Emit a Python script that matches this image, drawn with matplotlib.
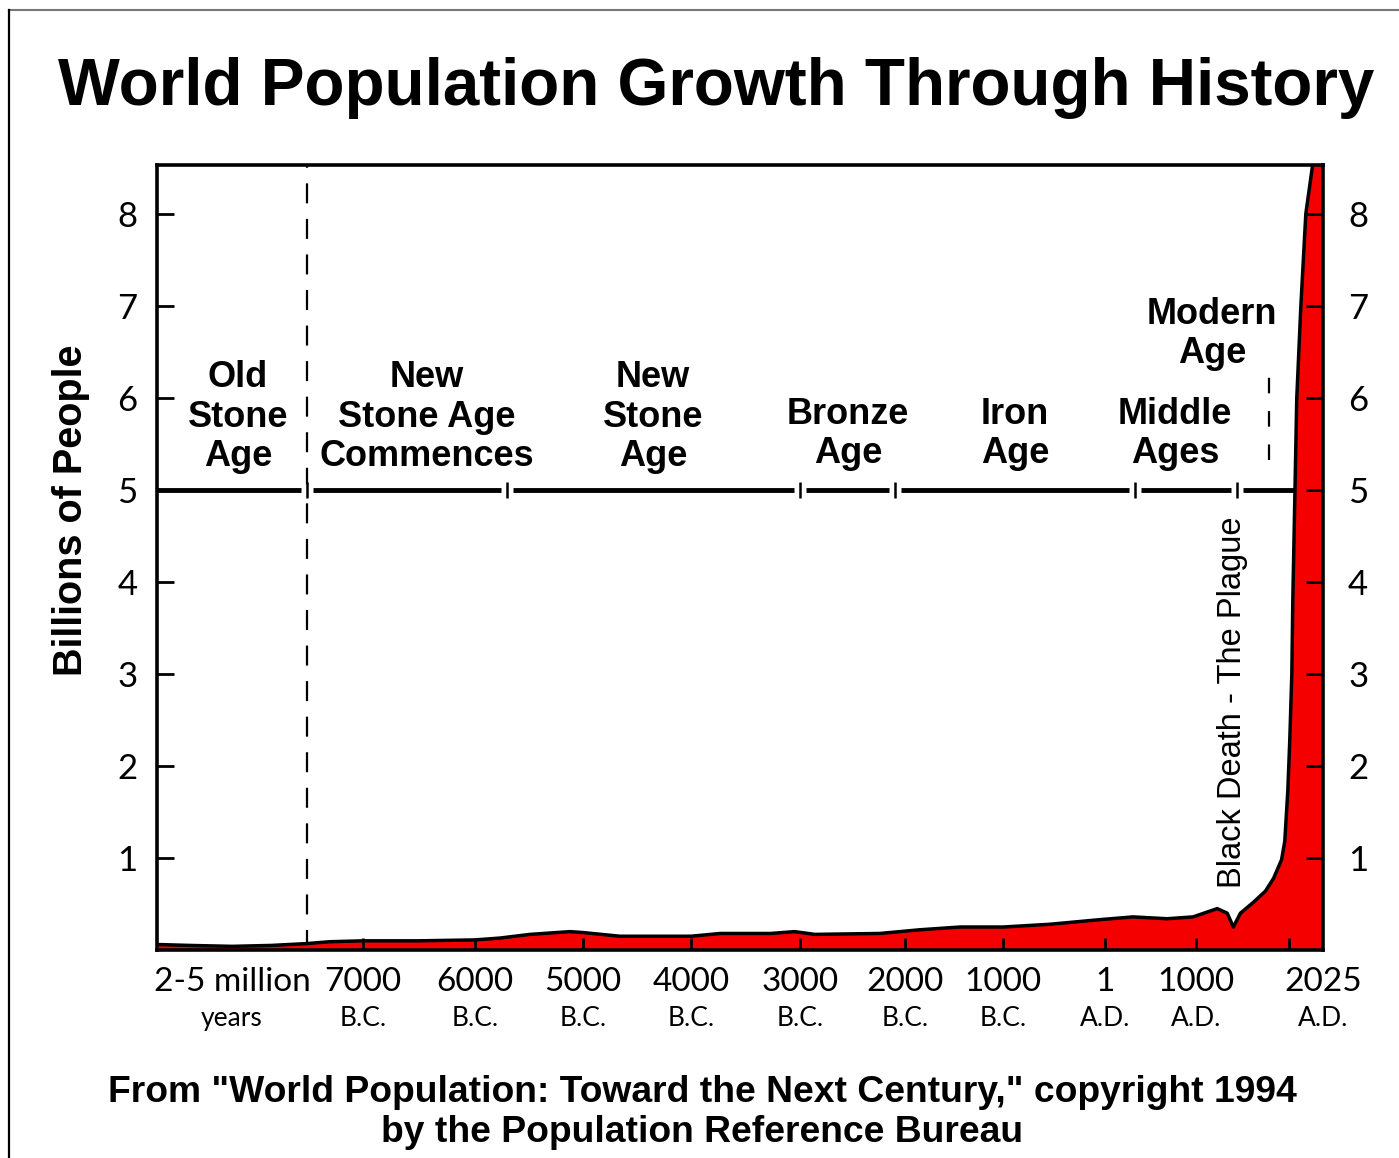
import numpy as np
import matplotlib
matplotlib.use("Agg")
import matplotlib.pyplot as plt
from matplotlib.lines import Line2D
from matplotlib.transforms import blended_transform_factory

plt.rcParams["font.family"] = ["Liberation Sans", "DejaVu Sans"]

# ── Data (years; negative = B.C.) ─────────────────────────────────────────────
years = [-5000000, -3900000, -2500000, -1200000, -8000, -7600, -7000, -6500,
         -6000, -5770, -5490, -5120, -5000, -4660, -4000, -3730, -3270, -3050,
         -2860, -2240, -1850, -1440, -1000, -540, -50, 309, 683, 967, 1171,
         1252, 1301, 1358, 1464, 1560, 1626, 1690, 1716, 1741, 1757, 1773, 1781,
         1797, 1813, 1846, 1886, 1943, 2025]
population = [0.06, 0.05, 0.04, 0.05, 0.07, 0.09, 0.10, 0.10,
              0.11, 0.13, 0.17, 0.20, 0.19, 0.15, 0.15, 0.18, 0.18, 0.20,
              0.17, 0.18, 0.22, 0.25, 0.25, 0.28, 0.33, 0.36, 0.34, 0.36, 0.45,
              0.40, 0.25, 0.40, 0.52, 0.64, 0.78, 0.98, 1.18, 1.74, 2.30, 3.00, 3.80,
              4.90, 6.00, 7.00, 8.00, 8.55, 9.30]

era_names = ["Old\nStone\nAge", "New\nStone Age\nCommences", "New\nStone\nAge",
             "Bronze\nAge", "Iron\nAge", "Middle\nAges", "Modern\nAge"]
era_boundaries = [-8000, -5700, -3000, -2100, 330, 1330]
stone_age_start = -8000
modern_divider = 1590

tick_years = [-7000, -6000, -5000, -4000, -3000, -2000, -1000, 1, 1000, 1750]
label_years = [-2500000, -7000, -6000, -5000, -4000, -3000, -2000, -1000, 1, 1000, 2025]
label_top = ["2-5 million", "7000", "6000", "5000", "4000", "3000", "2000",
             "1000", "1", "1000", "2025"]
label_bottom = ["years", "B.C.", "B.C.", "B.C.", "B.C.", "B.C.", "B.C.",
                "B.C.", "A.D.", "A.D.", "A.D."]
y_ticks = [1, 2, 3, 4, 5, 6, 7, 8]

# time axis is piecewise linear between these anchors (fraction of axis width)
scale_years = [-5000000, -8000, -7000, -6000, -5000, -4000, -3000, -2000, -1000, 1, 1000, 2025]
scale_frac = [0.0, 0.1286, 0.1767, 0.2727, 0.3654, 0.4580, 0.5515, 0.6415,
              0.7256, 0.8130, 0.8911, 1.0]


def fwd(x):
    return np.interp(x, scale_years, scale_frac)


def inv(f):
    return np.interp(f, scale_frac, scale_years)


RED = "#f50000"

fig = plt.figure(figsize=(13.99, 11.58), dpi=100)
fig.patch.set_facecolor("white")
ax = fig.add_axes([0.1122, 0.1796, 0.8335, 0.6779])
ax.set_xscale("function", functions=(fwd, inv))
ax.set_xlim(scale_years[0], scale_years[-1])
ax.set_ylim(0, 8.53)

# population area
ax.fill_between(years, population, 0, color=RED, lw=0, zorder=1)
ax.plot(years, population, color="black", lw=2.5, zorder=2, solid_joinstyle="round")

# era bar at 5 billion
ax.axhline(5, color="black", lw=3.5, zorder=0.8)
ax.plot(era_boundaries, [5] * len(era_boundaries), ls="none", marker="s", ms=8,
        mfc="white", mec="none", zorder=0.85)
ax.plot(era_boundaries, [5] * len(era_boundaries), ls="none", marker="|", ms=11,
        mew=1.8, color="black", zorder=0.9)
ax.axvline(stone_age_start, color="black", lw=1.6, ls=(0, (9, 7)), zorder=0.8)
ax.vlines(modern_divider, 5.33, 6.39, color="black", lw=1.6, ls=(0, (7, 8)), zorder=0.8)

era_xy = [(0.0695, 0.679), (0.2316, 0.679), (0.4254, 0.679), (0.5926, 0.657),
          (0.7358, 0.657), (0.8731, 0.657), (0.9048, 0.785)]
for name, (fx, fy) in zip(era_names, era_xy):
    ax.text(fx, fy, name, transform=ax.transAxes, ha="center", va="center",
            fontsize=26, fontweight="bold", linespacing=1.16, zorder=3)

ax.text(0.922, 0.315, "Black Death - The Plague", transform=ax.transAxes,
        rotation=90, ha="center", va="center", fontsize=23.5, zorder=3)

# axes cosmetics
for sp in ax.spines.values():
    sp.set_linewidth(2.6)
ax.set_xticks(tick_years)
ax.tick_params(axis="x", direction="in", length=9, width=2, labelbottom=False)
ax.set_yticks(y_ticks)
ax.set_yticklabels([str(v) for v in y_ticks], fontfamily="Lato")
ax.tick_params(axis="y", direction="in", length=12, width=2, labelsize=25, pad=14)

ax2 = ax.twinx()
ax2.set_ylim(ax.get_ylim())
ax2.set_yticks(y_ticks)
ax2.set_yticklabels([str(v) for v in y_ticks], fontfamily="Lato")
ax2.tick_params(axis="y", direction="in", length=12, width=2, labelsize=25, pad=18)
for sp in ax2.spines.values():
    sp.set_visible(False)

trans = blended_transform_factory(ax.transData, ax.transAxes)
for yr, top, bot in zip(label_years, label_top, label_bottom):
    ax.text(yr, -0.0405, top, transform=trans, ha="center", va="center",
            fontsize=24, fontfamily="Lato", clip_on=False)
    ax.text(yr, -0.0876, bot, transform=trans, ha="center", va="center",
            fontsize=19, fontfamily="Lato", clip_on=False)

# titles and notes
fig.text(0.5118, 1 - 105 / 1158, "World Population Growth Through History",
         ha="center", va="baseline", fontsize=47.2, fontweight="bold")
fig.text(0.0505, 0.5596, "Billions of People", rotation=90, ha="center",
         va="center", fontsize=28.5, fontweight="bold")
fig.text(0.5018, 1 - 1093 / 1158,
         'From "World Population: Toward the Next Century," copyright 1994',
         ha="center", va="center", fontsize=26.8, fontweight="bold")
fig.text(0.5018, 1 - 1133 / 1158, "by the Population Reference Bureau",
         ha="center", va="center", fontsize=26.8, fontweight="bold")

# thin frame round the picture
fig.add_artist(Line2D([9 / 1399, 1], [1 - 10 / 1158] * 2, transform=fig.transFigure,
                      color="#777777", lw=1.5))
fig.add_artist(Line2D([9 / 1399] * 2, [0, 1 - 10 / 1158], transform=fig.transFigure,
                      color="black", lw=1.6))

fig.savefig("out.png", dpi=100)
